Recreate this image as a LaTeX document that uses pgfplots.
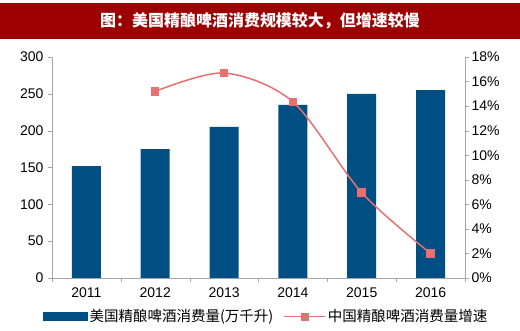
\documentclass[border=0pt]{standalone}
\usepackage{pgfplots}
\pgfplotsset{compat=1.18}
\usepackage{fontspec}
\setmainfont{Liberation Sans}
\newfontfamily\cjk{Noto Sans CJK SC}
\definecolor{barblue}{HTML}{004F84}
\definecolor{linered}{HTML}{E87070}
\definecolor{titlered}{HTML}{9C0000}
\definecolor{axgray}{HTML}{A6A6A6}
\begin{document}
\begin{tikzpicture}[x=1pt,y=1pt]
\fill[white] (0,0) rectangle (520,331);
\fill[titlered] (0,292) rectangle (520,328);
\node[text=white,font=\cjk\bfseries\fontsize{16}{18}\selectfont] at (260,310) {图：美国精酿啤酒消费规模较大，但增速较慢};
\begin{axis}[
  at={(52pt,53pt)}, anchor=south west,
  width=413pt, height=221pt, scale only axis,
  xmin=-0.5, xmax=5.5, ymin=0, ymax=300,
  axis x line*=bottom, axis y line*=left,
  axis line style={axgray},
  xtick={0,...,5}, xticklabels={2011,2012,2013,2014,2015,2016},
  major x tick style={draw=none},
  minor xtick={-0.5,0.5,...,5.5},
  minor x tick style={axgray},
  minor tick length=4pt,
  ytick={0,50,...,300},
  y tick style={axgray}, major tick length=4pt,
  tick align=outside,
  tick label style={font=\fontsize{14}{16}\selectfont},
  /pgf/number format/assume math mode=true,
  xticklabel style={yshift=-2pt},
  yticklabel style={xshift=-1pt},
]
\addplot[ybar, bar width=29pt, fill=barblue, draw=none] coordinates {(0,152) (1,175) (2,205) (3,235) (4,250) (5,255)};
\end{axis}
\begin{axis}[
  at={(52pt,53pt)}, anchor=south west,
  width=413pt, height=221pt, scale only axis,
  xmin=-0.5, xmax=5.5, ymin=0, ymax=18,
  axis y line*=right, axis x line=none,
  axis line style={axgray},
  ytick={0,2,...,18}, yticklabel={\pgfmathprintnumber{\tick}\%},
  y tick style={axgray}, major tick length=4pt,
  tick align=outside,
  tick label style={font=\fontsize{14}{16}\selectfont},
  /pgf/number format/assume math mode=true,
  yticklabel style={xshift=-1pt},
  legend style={at={(axis description cs:-0.0218,-0.174)}, anchor=west, draw=none, fill=none,
    inner sep=0pt, legend columns=2, font=\cjk\fontsize{14.5}{16}\selectfont,
    /tikz/every even column/.append style={column sep=8pt}},
  legend cell align=left,
]
\addlegendimage{legend image code/.code={\fill[barblue] (0pt,-4pt) rectangle (44pt,4pt);}}
\addlegendentry{美国精酿啤酒消费量(万千升)}
\addlegendimage{legend image code/.code={\draw[linered, line width=1.5pt] (0pt,0pt) -- (41pt,0pt); \fill[linered] (17pt,-3.5pt) rectangle (24pt,3.5pt);}}
\addlegendentry{中国精酿啤酒消费量增速}
\addplot[linered, line width=1.5pt, smooth, mark=square*, mark size=3.5pt, mark options={fill=linered, draw=linered}, forget plot] coordinates {(1,15.2) (2,16.7) (3,14.35) (4,6.95) (5,2.0)};
\end{axis}
\end{tikzpicture}
\end{document}
